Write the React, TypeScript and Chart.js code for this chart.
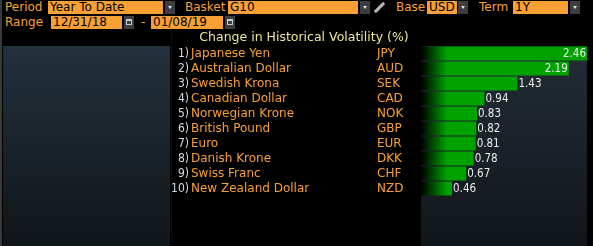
import React, { useEffect, useRef } from "react";
import { Chart, registerables } from "chart.js";
Chart.register(...registerables);

const names = [
  "Japanese Yen",
  "Australian Dollar",
  "Swedish Krona",
  "Canadian Dollar",
  "Norwegian Krone",
  "British Pound",
  "Euro",
  "Danish Krone",
  "Swiss Franc",
  "New Zealand Dollar",
];
const codes = ["JPY", "AUD", "SEK", "CAD", "NOK", "GBP", "EUR", "DKK", "CHF", "NZD"];
const values = [2.46, 2.19, 1.43, 0.94, 0.83, 0.82, 0.81, 0.78, 0.67, 0.46];
const ranks = names.map((_, i) => `${i + 1})`);
const chartTitle = "Change in Historical Volatility (%)";

const ORANGE = "#f8a033";
const FONT = "'DejaVu Sans', sans-serif";
const NARROW = "'Liberation Sans Narrow', 'DejaVu Sans Condensed', sans-serif";

const Label = ({ left, top, text }: { left: number; top: number; text: string }) => (
  <div
    style={{
      position: "absolute",
      left,
      top,
      height: 13,
      lineHeight: "13px",
      fontSize: 12,
      fontFamily: FONT,
      color: ORANGE,
      whiteSpace: "nowrap",
    }}
  >
    {text}
  </div>
);

const Box = ({ left, top, width, text }: { left: number; top: number; width: number; text: string }) => (
  <div
    style={{
      position: "absolute",
      left,
      top,
      width,
      height: 13,
      lineHeight: "13px",
      fontSize: 12,
      fontFamily: FONT,
      color: "#000",
      background: ORANGE,
      paddingLeft: 2,
      boxSizing: "border-box",
      whiteSpace: "nowrap",
      overflow: "hidden",
    }}
  >
    {text}
  </div>
);

const Arrow = ({ left, top }: { left: number; top: number }) => (
  <div
    style={{
      position: "absolute",
      left,
      top,
      width: 10,
      height: 13,
      background: "#3b3e42",
    }}
  >
    <div
      style={{
        position: "absolute",
        left: 3,
        top: 5,
        width: 0,
        height: 0,
        borderLeft: "2px solid transparent",
        borderRight: "2px solid transparent",
        borderTop: "3px solid #e0e0e0",
      }}
    />
  </div>
);

const Cal = ({ left, top }: { left: number; top: number }) => (
  <div
    style={{
      position: "absolute",
      left,
      top,
      width: 10,
      height: 13,
      background: "#3b3e42",
    }}
  >
    <div
      style={{
        position: "absolute",
        left: 2,
        top: 3,
        width: 6,
        height: 6,
        border: "1px solid #c8c8c8",
        borderTopWidth: 2,
        boxSizing: "border-box",
      }}
    />
  </div>
);

export default function App() {
  const ref = useRef<HTMLCanvasElement>(null);

  useEffect(() => {
    document.body.style.margin = "0";
    document.body.style.background = "#000";
    const canvas = ref.current!;

    const overlay = {
      id: "overlay",
      beforeDraw(chart: any) {
        const { ctx, chartArea: a, height } = chart;
        const g = ctx.createLinearGradient(0, a.top, 0, height);
        g.addColorStop(0, "#232c37");
        g.addColorStop(1, "#11161a");
        ctx.save();
        ctx.fillStyle = g;
        ctx.fillRect(a.left, a.top, a.right - a.left, height - a.top);
        ctx.restore();
      },
      afterDatasetsDraw(chart: any) {
        const { ctx } = chart;
        const ys = chart.scales.y;
        const meta = chart.getDatasetMeta(0);
        ctx.save();
        ctx.textBaseline = "middle";
        ctx.font = `12.5px ${FONT}`;
        ctx.fillStyle = "#efe49a";
        ctx.textAlign = "center";
        ctx.fillText(chartTitle, 134, 7.5);
        names.forEach((n, i) => {
          const cy = ys.getPixelForValue(i) + 0.5;
          ctx.font = `12px ${NARROW}`;
          ctx.textAlign = "right";
          ctx.fillStyle = "#d2daea";
          ctx.fillText(ranks[i], 19, cy);
          ctx.font = `12px ${FONT}`;
          ctx.textAlign = "left";
          ctx.fillStyle = ORANGE;
          ctx.fillText(n, 21, cy);
          ctx.fillText(codes[i], 207, cy);
          const bar = meta.data[i];
          const label = values[i].toFixed(2);
          ctx.font = `11.5px ${NARROW}`;
          ctx.fillStyle = "#ececec";
          const w = ctx.measureText(label).width;
          if (bar.x + w + 3 > chart.chartArea.right) {
            ctx.textAlign = "right";
            ctx.fillText(label, bar.x - 1, cy);
          } else {
            ctx.textAlign = "left";
            ctx.fillText(label, bar.x + 1, cy);
          }
        });
        ctx.restore();
      },
    };

    const chart = new Chart(canvas, {
      type: "bar",
      data: {
        labels: names,
        datasets: [
          {
            data: values,
            backgroundColor: (c: any) => {
              const { ctx, chartArea } = c.chart;
              if (!chartArea) return "#00a000";
              const g = ctx.createLinearGradient(chartArea.left, 0, chartArea.left + 26, 0);
              g.addColorStop(0, "#000000");
              g.addColorStop(1, "#00a200");
              return g;
            },
            borderWidth: 0,
            categoryPercentage: 1,
            barPercentage: 0.93,
          },
        ],
      },
      options: {
        indexAxis: "y",
        animation: false,
        responsive: false,
        maintainAspectRatio: false,
        events: [],
        layout: { padding: { left: 251, right: 0, top: 16, bottom: 50 } },
        scales: {
          x: { display: false, min: 0, max: Math.max(...values) },
          y: { display: false },
        },
        plugins: {
          legend: { display: false },
          tooltip: { enabled: false },
          title: { display: false },
        },
      },
      plugins: [overlay],
    });
    return () => chart.destroy();
  }, []);

  return (
    <div style={{ position: "relative", width: 593, height: 246, background: "#000", overflow: "hidden" }}>
      <div style={{ position: "absolute", left: 0, top: 0, width: 2, height: 246, background: "#3a3a3a" }} />
      <Label left={5} top={1} text="Period" />
      <Box left={48} top={1} width={115} text="Year To Date" />
      <Arrow left={165} top={1} />
      <Label left={185} top={1} text="Basket" />
      <Box left={228} top={1} width={130} text="G10" />
      <Arrow left={360} top={1} />
      <div
        style={{
          position: "absolute",
          left: 373,
          top: 6,
          width: 13,
          height: 3,
          background: "#b8b8b8",
          transform: "rotate(-45deg)",
        }}
      />
      <Label left={396} top={1} text="Base" />
      <Box left={427} top={1} width={30} text="USD" />
      <Arrow left={458} top={1} />
      <Label left={479} top={1} text="Term" />
      <Box left={513} top={1} width={55} text="1Y" />
      <Arrow left={570} top={1} />
      <Label left={5} top={16} text="Range" />
      <Box left={51} top={16} width={71} text="12/31/18" />
      <Cal left={124} top={16} />
      <Label left={141} top={16} text="-" />
      <Box left={151} top={16} width={72} text="01/08/19" />
      <Cal left={225} top={16} />
      <div
        style={{
          position: "absolute",
          left: 3,
          top: 46,
          width: 167,
          height: 200,
          background: "linear-gradient(#23313c, #101518)",
        }}
      />
      <div style={{ position: "absolute", left: 171, top: 30, width: 1, height: 216, background: "#0c0c0c" }} />
      <canvas
        ref={ref}
        width={417}
        height={216}
        style={{ position: "absolute", left: 170, top: 30, width: 417, height: 216 }}
      />
    </div>
  );
}
